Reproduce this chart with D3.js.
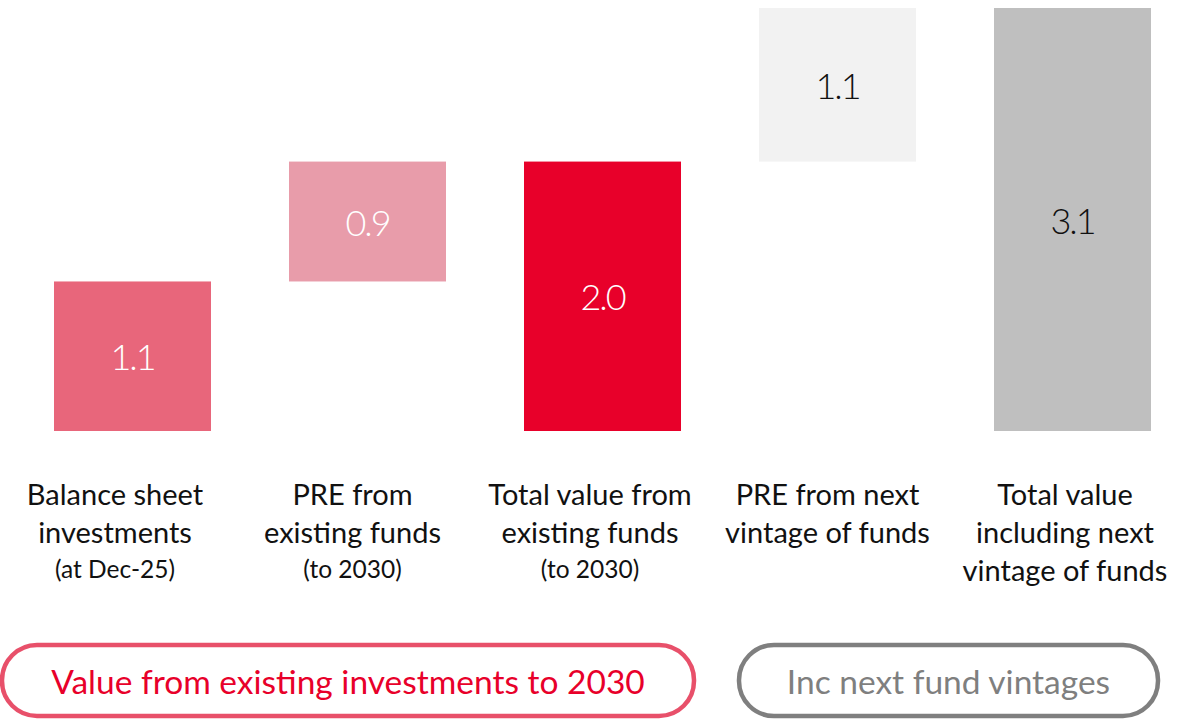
<!DOCTYPE html>
<html><head><meta charset="utf-8">
<script src="https://cdn.jsdelivr.net/npm/d3@7/dist/d3.min.js"></script>
<style>body{margin:0;background:#fff;} svg{display:block;}</style>
</head><body>
<svg id="c" width="1199" height="719"></svg>
<script>
const categories = ["Balance sheet investments", "PRE from existing funds", "Total value from existing funds", "PRE from next vintage of funds", "Total value including next vintage of funds"];
const labelLines = [["Balance sheet","investments"],["PRE from","existing funds"],["Total value from","existing funds"],["PRE from next","vintage of funds"],["Total value","including next","vintage of funds"]];
const subLabels = ["(at Dec-25)","(to 2030)","(to 2030)","",""];
const values = [1.11, 0.89, 2.0, 1.14, 3.14];
const kinds = ["delta","delta","total","delta","total"];
const barColors = ["#E8667B","#E89CAA","#E8002A","#F2F2F2","#BFBFBF"];
const textColors = ["#ffffff","#ffffff","#ffffff","#111111","#111111"];
const legendTexts = ["Value from existing investments to 2030","Inc next fund vintages"];

// compute waterfall bases
let run = 0; const bars = values.map((v,i)=>{
  let y0, y1;
  if (kinds[i]==="total"){ y0=0; y1=v; run=v; } else { y0=run; y1=run+v; run=y1; }
  return {cat:categories[i], v, y0, y1, i};
});

const svg = d3.select("#c");
const x = d3.scaleBand().domain(categories).range([15,1190]).paddingInner(78/235).paddingOuter(39/235);
const xl = d3.scaleBand().domain(categories).range([-3.75,1183.75]).padding(0);
const y = d3.scaleLinear().domain([0,3.14]).range([431,8]);
const font = "Lato, 'Open Sans', sans-serif";

svg.selectAll("rect.bar").data(bars).join("rect").attr("class","bar")
  .attr("x",d=>x(d.cat)).attr("width",x.bandwidth())
  .attr("y",d=>y(d.y1)).attr("height",d=>y(d.y0)-y(d.y1))
  .attr("fill",d=>barColors[d.i]);

svg.selectAll("text.val").data(bars).join("text").attr("class","val")
  .attr("x",d=>x(d.cat)+x.bandwidth()/2).attr("y",d=>(y(d.y0)+y(d.y1))/2)
  .attr("text-anchor","middle").attr("dominant-baseline","central")
  .attr("font-family",font).attr("font-weight",300).attr("font-size",36).attr("letter-spacing",-2)
  .attr("fill",d=>textColors[d.i]).text(d=>d3.format(".1f")(d.v));

const lab = svg.selectAll("g.lab").data(bars).join("g").attr("class","lab")
  .attr("transform",d=>`translate(${xl(d.cat)+xl.bandwidth()/2},0)`);
lab.each(function(d){
  const g=d3.select(this);
  labelLines[d.i].forEach((l,k)=>{
    g.append("text").attr("y",505+k*38).attr("text-anchor","middle")
     .attr("font-family",font).attr("font-size",29).attr("fill","#111").text(l);
  });
  if (subLabels[d.i]) g.append("text").attr("y",505+labelLines[d.i].length*38-3).attr("text-anchor","middle")
     .attr("font-family",font).attr("font-size",24.5).attr("fill","#111").text(subLabels[d.i]);
});

// legend pills
const pills = [{x0:2,x1:694,stroke:"#E8506A",fill:"#E8002A"},{x0:739,x1:1158,stroke:"#7F7F7F",fill:"#7F7F7F"}];
pills.forEach((p,i)=>{
  svg.append("rect").attr("x",p.x0).attr("y",645).attr("width",p.x1-p.x0).attr("height",71)
    .attr("rx",35).attr("ry",35).attr("fill","none").attr("stroke",p.stroke).attr("stroke-width",4.5);
  svg.append("text").attr("x",(p.x0+p.x1)/2).attr("y",681).attr("text-anchor","middle")
    .attr("dominant-baseline","central").attr("font-family",font).attr("font-size",33.5)
    .attr("fill",p.fill).text(legendTexts[i]);
});
</script>
</body></html>
